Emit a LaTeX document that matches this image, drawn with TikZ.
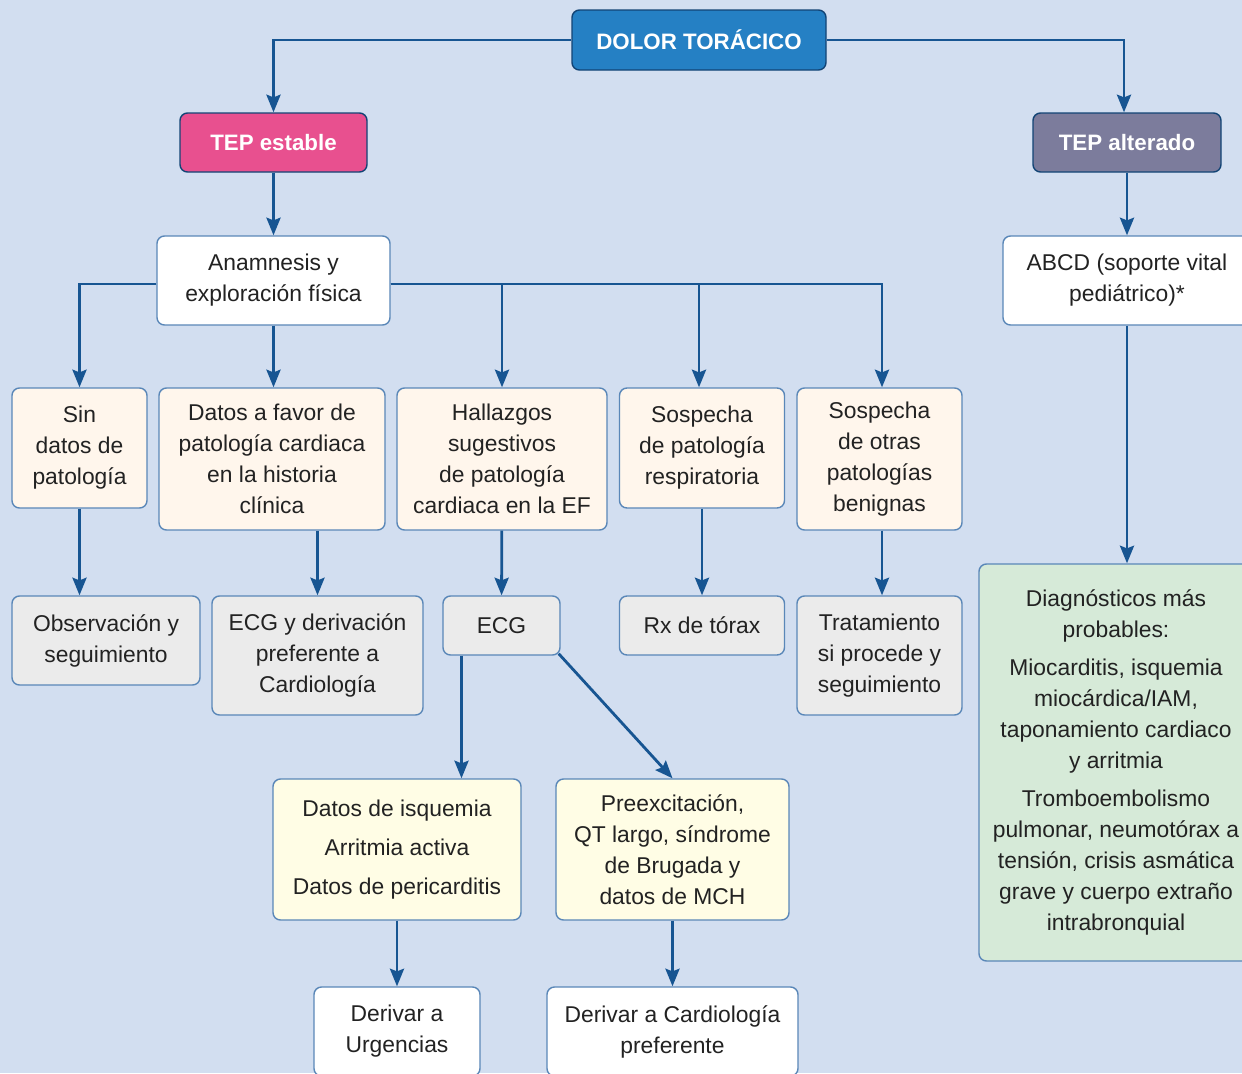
\documentclass[tikz,border=0pt]{standalone}
\usepackage{fontspec}
\setmainfont{Liberation Sans}
\usetikzlibrary{arrows.meta}

\definecolor{fondo}{HTML}{D2DEF0}
\definecolor{linea}{HTML}{175592}
\definecolor{borde}{HTML}{5A87B8}
\definecolor{azul}{HTML}{2580C4}
\definecolor{rosa}{HTML}{E8508F}
\definecolor{malva}{HTML}{7C7C9C}
\definecolor{crema}{HTML}{FFF6EC}
\definecolor{gris}{HTML}{EBEBEB}
\definecolor{amarillo}{HTML}{FFFDE5}
\definecolor{verde}{HTML}{D6EAD8}
\definecolor{texto}{HTML}{222222}

\begin{document}
\begin{tikzpicture}[x=0.02cm, y=-0.02cm,
    font=\fontsize{13}{17.6}\selectfont,
    caja/.style 2 args={draw=borde, line width=0.8pt, rounded corners=0.15cm,
        align=center, inner sep=0pt, text=texto,
        minimum width=#1*0.02cm, minimum height=#2*0.02cm},
    titulo/.style={draw=linea!80!black, text=white, font=\fontsize{12.7}{16}\selectfont\bfseries},
    flecha/.style={draw=linea, line width=1.6pt, -{Stealth[length=10pt, width=8pt, inset=1.5pt]}}]

    \useasboundingbox (0,0) rectangle (1242,1073);
    \clip (0,0) rectangle (1242,1073);
    \fill[fondo] (0,0) rectangle (1242,1073);

    % cabecera
    \node[caja={254}{60}, titulo, fill=azul] (dolor) at (699,40) {DOLOR TORÁCICO};
    \node[caja={187}{59}, titulo, fill=rosa] (estable) at (273.5,142.5) {TEP estable};
    \node[caja={188}{59}, titulo, fill=malva] (alterado) at (1127,142.5) {TEP alterado};

    % rama estable
    \node[caja={233}{89}, fill=white] (anamnesis) at (273.5,280.5) {Anamnesis y\\exploración física};
    \node[caja={135}{120}, fill=crema] (sin) at (79.5,448) {Sin\\datos de\\patología};
    \node[caja={226}{142}, fill=crema] (favor) at (272,459) {Datos a favor de\\patología cardiaca\\en la historia\\clínica};
    \node[caja={210}{142}, fill=crema] (hallazgos) at (502,459) {Hallazgos\\sugestivos\\de patología\\cardiaca en la EF};
    \node[caja={165}{120}, fill=crema] (respira) at (702,448) {Sospecha\\de patología\\respiratoria};
    \node[caja={165}{142}, fill=crema] (otras) at (879.5,459) {Sospecha\\de otras\\patologías\\benignas};

    \node[caja={188}{89}, fill=gris] (observa) at (106,640.5) {Observación y\\seguimiento};
    \node[caja={211}{119}, fill=gris] (ecgderiva) at (317.5,655.5) {ECG y derivación\\preferente a\\Cardiología};
    \node[caja={117}{59}, fill=gris] (ecg) at (501.5,625.5) {ECG};
    \node[caja={165}{59}, fill=gris] (rx) at (702,625.5) {Rx de tórax};
    \node[caja={165}{119}, fill=gris] (trata) at (879.5,655.5) {Tratamiento\\si procede y\\seguimiento};

    \node[caja={248}{141}, fill=amarillo] (isquemia) at (397,849.5) {Datos de isquemia\\[4.5pt]Arritmia activa\\[4.5pt]Datos de pericarditis};
    \node[caja={233}{141}, fill=amarillo] (preexc) at (672.5,849.5) {Preexcitación,\\QT largo, síndrome\\de Brugada y\\datos de MCH};

    \node[caja={166}{89}, fill=white] (urgencias) at (397,1031.5) {Derivar a\\Urgencias};
    \node[caja={251}{89}, fill=white] (cardio) at (672.5,1031.5) {Derivar a Cardiología\\preferente};

    % rama alterada
    \node[caja={248}{89}, fill=white] (abcd) at (1127,280.5) {ABCD (soporte vital\\pediátrico)*};
    \node[caja={274}{397}, fill=verde] (diagnostico) at (1116,762.5) {Diagnósticos más\\probables:\\[4pt]
        Miocarditis, isquemia\\miocárdica/IAM,\\taponamiento cardiaco\\y arritmia\\[4pt]
        Tromboembolismo\\pulmonar, neumotórax a\\tensión, crisis asmática\\grave y cuerpo extraño\\intrabronquial};

    % conectores
    \draw[flecha] (dolor.west) -| (estable.north);
    \draw[flecha] (dolor.east) -| ([xshift=-0.06cm]alterado.north);
    \draw[flecha] (estable) -- (anamnesis);
    \draw[flecha] (alterado) -- (abcd);
    \draw[flecha] (abcd.south) -- (abcd.south |- diagnostico.north);

    \draw[flecha] ([yshift=-0.07cm]anamnesis.west) -| (sin.north);
    \draw[flecha] (anamnesis.south) -- (anamnesis.south |- favor.north);
    \draw[flecha] ([yshift=-0.07cm]anamnesis.east) -| (hallazgos.north);
    \draw[flecha] ([yshift=-0.07cm]anamnesis.east) -| ([xshift=-0.06cm]respira.north);
    \draw[flecha] ([yshift=-0.07cm]anamnesis.east) -| ([xshift=0.05cm]otras.north);

    \draw[flecha] (sin.south) -- (sin.south |- observa.north);
    \draw[flecha] (ecgderiva.north |- favor.south) -- (ecgderiva.north);
    \draw[flecha] (hallazgos) -- (ecg);
    \draw[flecha] (respira) -- (rx);
    \draw[flecha] ([xshift=0.05cm]otras.south) -- ([xshift=0.05cm]otras.south |- trata.north);

    \draw[flecha] ([xshift=-0.8cm]ecg.south) -- ([xshift=-0.8cm]ecg.south |- isquemia.north);
    \draw[flecha] ([shift={(-0.04cm,0.04cm)}]ecg.south east) -- (preexc.north);
    \draw[flecha] (isquemia) -- (urgencias);
    \draw[flecha] (preexc) -- (cardio);
\end{tikzpicture}
\end{document}
